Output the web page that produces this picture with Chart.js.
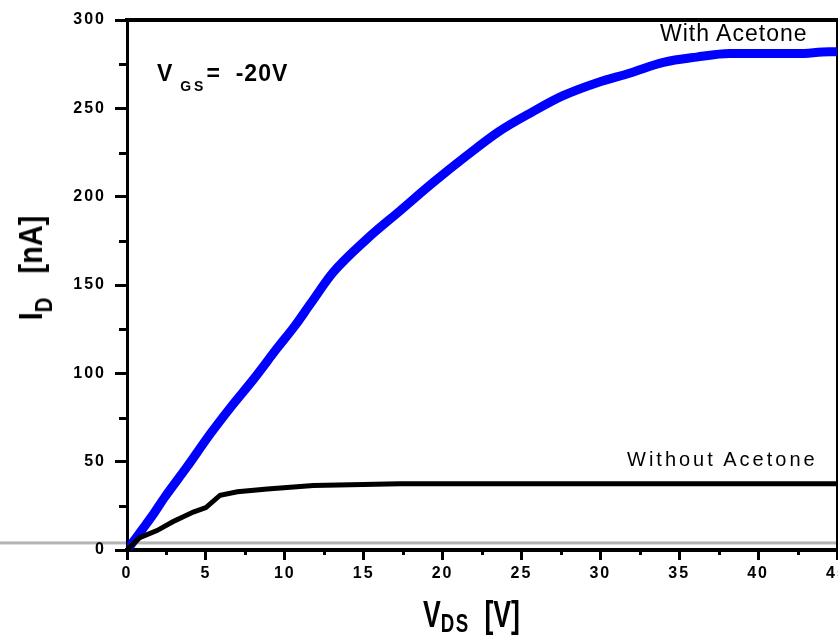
<!DOCTYPE html>
<html>
<head>
<meta charset="utf-8">
<script src="https://cdn.jsdelivr.net/npm/chart.js@4.4.0/dist/chart.umd.min.js"></script>
<style>
    html, body { margin: 0; padding: 0; background: #fff; overflow: hidden; }
    #wrap { position: relative; width: 838px; height: 635px; }
    #myChart { position: absolute; left: 0; top: 0; }
    .lbl { position: absolute; white-space: pre; color: #000; line-height: 1; }
    .bold { font-family: 'Liberation Sans', Arial, sans-serif; font-weight: bold; }
    .sub { position: relative; }
</style>
</head>
<body>
<div id="wrap">
    <canvas id="myChart" width="838" height="635"></canvas>
    <div class="lbl bold" style="left:30px; top:268px; font-size:34px; transform: translate(-50%, -50%) rotate(-90deg) scaleX(0.85);">I<span class="sub" style="font-size:24px; top:10px;">D</span>   [nA]</div>
    <div class="lbl bold" style="left:423px; top:596px; font-size:37px; transform-origin: 0 0; transform: scaleX(0.72);">V<span class="sub" style="font-size:26px; top:5px; letter-spacing:2px;">DS</span>  [V]</div>
    <div class="lbl bold" style="left:157px; top:62px; font-size:23px; letter-spacing:1px;">V<span class="sub" style="font-size:14px; top:10px; letter-spacing:3px;"> GS</span>=  -20V</div>
    <div class="lbl" style="left:660px; top:22px; font-family:'Liberation Sans', Arial, sans-serif; font-size:23px; letter-spacing:1px;">With Acetone</div>
    <div class="lbl" style="left:627px; top:449px; font-family:'Liberation Sans', Arial, sans-serif; font-size:20px; letter-spacing:3px;">Without Acetone</div>
</div>
<script>
// I-V curves (V_DS in V, I_D in nA)
const vdsWith = [0, 0.5, 1, 1.65, 2.4, 3.8, 5.3, 6.5, 8.05, 9.5, 10.65, 11.6, 13.05, 15.2, 17.3, 19.4, 21.5, 23.6, 25.7, 27.6, 29.8, 31.9, 34.0, 36.1, 38.2, 40.3, 42.5, 44.5, 45];
const idWith = [0, 6, 12, 20, 30, 47, 66, 80, 97, 114, 127, 139, 157, 176, 192, 208, 223, 237, 248, 257, 264.5, 270, 276, 279, 281, 281, 281, 282, 282];

const vdsWithout = [0, 0.8, 1.9, 2.9, 4.2, 5.0, 5.9, 7.0, 8.9, 11.8, 17.3, 25, 35, 45];
const idWithout = [0, 7, 11, 16, 21.5, 24, 31, 33, 34.5, 36.5, 37.5, 37.5, 37.5, 37.5];

const xMajorTicks = [0, 5, 10, 15, 20, 25, 30, 35, 40, 45];
const xMinorTicks = [2.5, 7.5, 12.5, 17.5, 22.5, 27.5, 32.5, 37.5, 42.5];
const yMajorTicks = [0, 50, 100, 150, 200, 250, 300];
const yMinorTicks = [25, 75, 125, 175, 225, 275];

const tickFont = { family: "'Liberation Sans', Arial, sans-serif", size: 16, weight: 'bold' };

function toPoints(xs, ys) {
    return xs.map((x, i) => ({ x: x, y: ys[i] }));
}

function noPadding(s) {
    s.paddingLeft = 0;
    s.paddingRight = 0;
    s.paddingTop = 0;
    s.paddingBottom = 0;
}

const decorations = {
    id: 'decorations',
    beforeDraw(chart) {
        let ctx = chart.ctx;
        ctx.letterSpacing = '2px';
        // grey strip across the scan
        let py = chart.scales.y.getPixelForValue(4);
        ctx.save();
        ctx.fillStyle = '#b4b4b4';
        ctx.fillRect(0, py - 1.5, chart.width, 3);
        ctx.restore();
    },
    afterDraw(chart) {
        let ctx = chart.ctx;
        let area = chart.chartArea;
        ctx.save();
        ctx.strokeStyle = '#000';
        ctx.lineWidth = 3;
        ctx.beginPath();
        yMinorTicks.forEach(v => {
            let py = Math.round(chart.scales.y.getPixelForValue(v)) + 0.5;
            ctx.moveTo(area.left - 8, py);
            ctx.lineTo(area.left, py);
        });
        xMinorTicks.forEach(v => {
            let px = Math.round(chart.scales.x.getPixelForValue(v)) + 0.5;
            ctx.moveTo(px, area.bottom);
            ctx.lineTo(px, area.bottom + 5);
        });
        ctx.stroke();
        ctx.restore();
    }
};

var ctx = document.getElementById('myChart').getContext('2d');
var myChart = new Chart(ctx, {
    type: 'scatter',
    data: {
        datasets: [
            {
                label: 'Without Acetone',
                data: toPoints(vdsWithout, idWithout),
                showLine: true,
                borderColor: '#000000',
                borderWidth: 5,
                pointRadius: 0,
                tension: 0
            },
            {
                label: 'With Acetone',
                data: toPoints(vdsWith, idWith),
                showLine: true,
                borderColor: 'rgb(0, 0, 255)',
                borderWidth: 9,
                pointRadius: 0,
                cubicInterpolationMode: 'monotone'
            }
        ]
    },
    options: {
        responsive: false,
        animation: false,
        layout: { padding: { top: 20, right: 1, left: 0, bottom: 0 } },
        plugins: { legend: { display: false }, tooltip: { enabled: false } },
        scales: {
            x: {
                type: 'linear',
                position: 'bottom',
                min: 0,
                max: 45,
                afterBuildTicks: s => { s.ticks = xMajorTicks.map(v => ({ value: v })); },
                afterFit: s => { s.height = 85; noPadding(s); },
                ticks: { color: '#000', font: tickFont, padding: 4, maxRotation: 0, autoSkip: false },
                grid: { drawOnChartArea: false, drawTicks: true, tickLength: 10, tickWidth: 3, tickColor: '#000' },
                border: { display: true, color: '#000', width: 4 }
            },
            y: {
                type: 'linear',
                position: 'left',
                min: 0,
                max: 300,
                afterBuildTicks: s => { s.ticks = yMajorTicks.map(v => ({ value: v })); },
                afterFit: s => { s.width = 127; noPadding(s); },
                ticks: { color: '#000', font: tickFont, padding: 9 },
                grid: { drawOnChartArea: false, drawTicks: true, tickLength: 12, tickWidth: 3, tickColor: '#000' },
                border: { display: true, color: '#000', width: 3 }
            },
            x2: {
                type: 'linear',
                position: 'top',
                min: 0,
                max: 45,
                afterFit: s => { s.height = 0; noPadding(s); },
                ticks: { display: false },
                grid: { drawOnChartArea: false, drawTicks: false },
                border: { display: true, color: '#000', width: 4 }
            },
            y2: {
                type: 'linear',
                position: 'right',
                min: 0,
                max: 300,
                afterFit: s => { s.width = 0; noPadding(s); },
                ticks: { display: false },
                grid: { drawOnChartArea: false, drawTicks: false },
                border: { display: true, color: '#000', width: 2 }
            }
        }
    },
    plugins: [decorations]
});
</script>
</body>
</html>
